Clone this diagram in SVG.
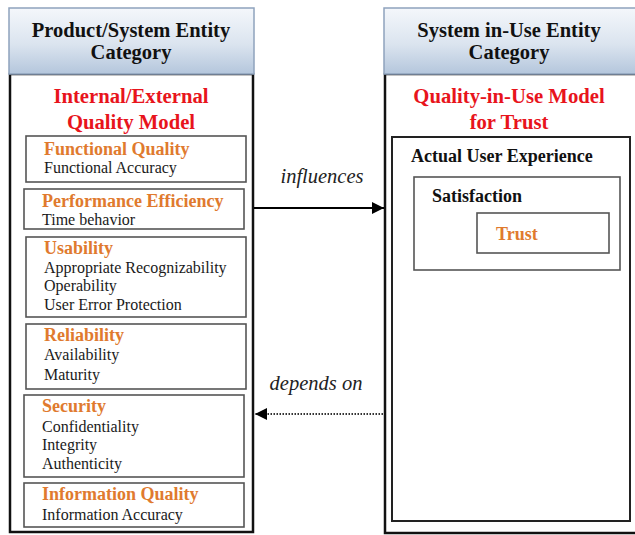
<svg xmlns="http://www.w3.org/2000/svg" width="635" height="535" viewBox="0 0 635 535">
  <defs>
    <linearGradient id="hdr" x1="0" y1="0" x2="0" y2="1">
      <stop offset="0" stop-color="#f4f7fb"/>
      <stop offset="0.55" stop-color="#dbe4ef"/>
      <stop offset="1" stop-color="#b4c6dc"/>
    </linearGradient>
    <marker id="arr" viewBox="0 0 10 10" refX="10" refY="5" markerWidth="12" markerHeight="12" markerUnits="userSpaceOnUse" orient="auto">
      <path d="M0,0 L10,5 L0,10 Z" fill="#000"/>
    </marker>
    <style>
      .hdr { fill: url(#hdr); stroke: #8fa3bd; stroke-width: 1.5; }
      .body { fill: #fff; stroke: #111; stroke-width: 2.5; }
      .box { fill: #fff; stroke: #555; stroke-width: 1.6; }
      .inner { fill: #fff; stroke: #222; stroke-width: 2; }
      .t { font-family: "Liberation Serif", "Times New Roman", serif; }
      .ht { font-size: 20.5px; font-weight: bold; fill: #111; text-anchor: middle; }
      .rt { font-size: 20.7px; font-weight: bold; fill: #e8141c; text-anchor: middle; }
      .ot { font-size: 18px; font-weight: bold; fill: #e07a2e; }
      .nt { font-size: 16px; fill: #1a1a1a; }
      .bt { font-size: 18px; font-weight: bold; fill: #111; }
      .it { font-size: 20.5px; font-style: italic; fill: #222; text-anchor: middle; }
    </style>
  </defs>

  <!-- Product/System entity column -->
  <g id="product-system">
    <rect class="body" x="10" y="74" width="243" height="458"/>
    <rect class="hdr" x="9" y="8" width="245" height="66"/>
    <text class="t ht" x="131" y="37">Product/System Entity</text>
    <text class="t ht" x="131" y="59">Category</text>
    <text class="t rt" x="131" y="103">Internal/External</text>
    <text class="t rt" x="131" y="129">Quality Model</text>
  </g>

  <g id="functional-quality">
    <rect class="box" x="26" y="136" width="220" height="46"/>
    <text class="t ot" x="44" y="155">Functional Quality</text>
    <text class="t nt" x="44" y="173">Functional Accuracy</text>
  </g>

  <g id="performance-efficiency">
    <rect class="box" x="24" y="189" width="220" height="40"/>
    <text class="t ot" x="42" y="207">Performance Efficiency</text>
    <text class="t nt" x="42" y="225">Time behavior</text>
  </g>

  <g id="usability">
    <rect class="box" x="26" y="237" width="220" height="80"/>
    <text class="t ot" x="44" y="254">Usability</text>
    <text class="t nt" x="44" y="273">Appropriate Recognizability</text>
    <text class="t nt" x="44" y="291">Operability</text>
    <text class="t nt" x="44" y="310">User Error Protection</text>
  </g>

  <g id="reliability">
    <rect class="box" x="26" y="324" width="220" height="65"/>
    <text class="t ot" x="44" y="341">Reliability</text>
    <text class="t nt" x="44" y="360">Availability</text>
    <text class="t nt" x="44" y="380">Maturity</text>
  </g>

  <g id="security">
    <rect class="box" x="24" y="395" width="220" height="82"/>
    <text class="t ot" x="42" y="412">Security</text>
    <text class="t nt" x="42" y="432">Confidentiality</text>
    <text class="t nt" x="42" y="450">Integrity</text>
    <text class="t nt" x="42" y="469">Authenticity</text>
  </g>

  <g id="information-quality">
    <rect class="box" x="24" y="483" width="220" height="44"/>
    <text class="t ot" x="42" y="500">Information Quality</text>
    <text class="t nt" x="42" y="520">Information Accuracy</text>
  </g>

  <!-- System in-use entity column -->
  <g id="system-in-use">
    <rect class="body" x="385" y="74" width="260" height="459"/>
    <rect class="hdr" x="384" y="8" width="260" height="66"/>
    <text class="t ht" x="509" y="37">System in-Use Entity</text>
    <text class="t ht" x="509" y="59">Category</text>
    <text class="t rt" x="509" y="103">Quality-in-Use Model</text>
    <text class="t rt" x="509" y="129">for Trust</text>
  </g>

  <g id="actual-user-experience">
    <rect class="inner" x="392" y="137" width="238" height="384"/>
    <text class="t bt" x="411" y="162">Actual User Experience</text>
  </g>

  <g id="satisfaction">
    <rect class="box" x="414" y="177" width="206" height="93"/>
    <text class="t bt" x="432" y="202">Satisfaction</text>
  </g>

  <g id="trust">
    <rect class="box" x="477" y="213" width="132" height="40"/>
    <text class="t ot" x="496" y="240">Trust</text>
  </g>

  <!-- Relations between the two columns -->
  <g id="connectors">
    <line x1="254" y1="208" x2="384" y2="208" stroke="#000" stroke-width="1.8" marker-end="url(#arr)"/>
    <text class="t it" x="322" y="183">influences</text>
    <line x1="383" y1="414" x2="255" y2="414" stroke="#333" stroke-width="1.8" stroke-dasharray="1.5 1.5" marker-end="url(#arr)"/>
    <text class="t it" x="316" y="390">depends on</text>
  </g>
</svg>
